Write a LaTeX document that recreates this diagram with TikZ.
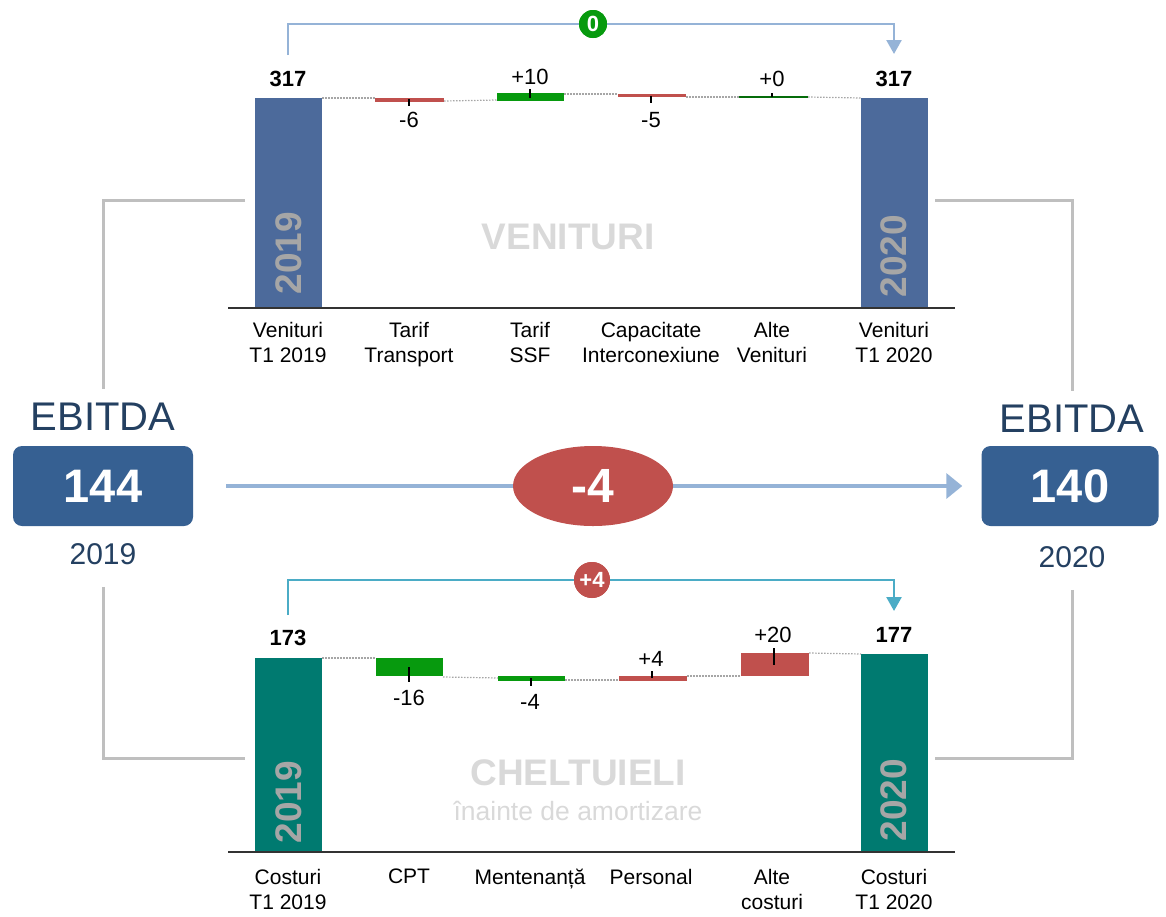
\documentclass[tikz,border=0pt]{standalone}
\usepackage{fontspec}
\setmainfont{Liberation Sans}
\usetikzlibrary{shapes.geometric,arrows.meta}
\definecolor{venblue}{HTML}{4C6A9B}
\definecolor{costteal}{HTML}{007A70}
\definecolor{ebitblue}{HTML}{366092}
\definecolor{ebitdark}{HTML}{244061}
\definecolor{negred}{HTML}{C0504D}
\definecolor{posgreen}{HTML}{079A0E}
\definecolor{arrowblue}{HTML}{95B3D7}
\definecolor{arrowteal}{HTML}{4BACC6}
\definecolor{linkgray}{HTML}{BFBFBF}
\definecolor{watergray}{HTML}{D9D9D9}
\definecolor{yeargray}{HTML}{A6A6A6}
\newcommand{\fsz}[2]{\fontsize{#1}{#2}\selectfont}
\tikzset{
  catlabel/.style={font=\fsz{21}{25}, align=center, anchor=north, inner sep=0},
  deltalabel/.style={font=\fsz{22}{26}, inner sep=0},
  totlabel/.style={font=\bfseries\fsz{22}{26}, inner sep=0},
  yearbar/.style={font=\bfseries\fsz{37}{40}, text=yeargray, rotate=90, inner sep=0},
  watermark/.style={font=\bfseries\fsz{37}{40}, text=watergray, inner sep=0},
  linkline/.style={linkgray, line width=3},
  dotlink/.style={yeargray, line width=1.2, dash pattern=on 1.5 off 1.5},
  tickmark/.style={black, line width=1.2},
  baseline/.style={black!80, line width=2},
  bracket/.style={line width=2.5, -{Triangle[length=14,width=15]}},
  badge/.style={circle, text=white, font=\bfseries\fsz{22}{24}, inner sep=0},
  ebitbox/.style={rectangle, rounded corners=9, fill=ebitblue, text=white,
    minimum width=180, minimum height=80, font=\bfseries\fsz{47}{50}},
  ebittext/.style={text=ebitdark, inner sep=0}
}
\begin{document}
\begin{tikzpicture}[x=1pt, y=-1pt]
\useasboundingbox (0,0) rectangle (1166,916);

% ---------- venituri (top) ----------
\fill[venblue] (255,98) rectangle (322,308);
\fill[venblue] (861,98) rectangle (928,308);
\foreach \xa/\ya/\xb/\yb/\c in {375/98/444/102/negred, 497/93/564/101/posgreen, 618/94/686/97/negred}
  \fill[\c] (\xa,\ya) rectangle (\xb,\yb);
\draw[posgreen!70!black, line width=1.2] (739,97) -- (808,97);
\foreach \xa/\ya/\xb/\yb in {322/98/375/98, 444/101/497/100, 564/94/618/94, 686/97/739/97, 808/97/861/98}
  \draw[dotlink] (\xa,\ya) -- (\xb,\yb);
\foreach \x/\ya/\yb in {409/99/106, 530/89/98, 651/96/103, 772/93/97}
  \draw[tickmark] (\x,\ya) -- (\x,\yb);
\draw[baseline] (228,308) -- (955,308);

\node[totlabel] (vtot19) at (288,79) {317};
\node[totlabel] (vtot20) at (894,79) {317};
\foreach \x/\y/\t in {409/120/-6, 530/77/+10, 651/120/-5, 772/79/+0}
  \node[deltalabel] (vdelta\x) at (\x,\y) {\t};
\foreach \x/\t in {288/{Venituri\\T1 2019}, 409/{Tarif\\Transport}, 530/{Tarif\\SSF},
                   651/{Capacitate\\Interconexiune}, 772/{Alte\\Venituri}, 894/{Venituri\\T1 2020}}
  \node[catlabel] (vcat\x) at (\x,322) {\t};
\node[yearbar] (vyr19) at (289,253) {2019};
\node[yearbar] (vyr20) at (894,256) {2020};
\node[watermark] (vwater) at (568,237) {VENITURI};

\coordinate (vbrL) at (288,55);
\coordinate (vbrR) at (894,54);
\node[badge, fill=posgreen, minimum size=28] (vbadge) at (593,24) {0};
\draw[bracket, arrowblue] (vbrL) |- (vbadge) -| (vbrR);
\node[badge, fill=posgreen, minimum size=28] at (vbadge) {0};

% ---------- cheltuieli (bottom) ----------
\fill[costteal] (255,658) rectangle (322,852);
\fill[costteal] (861,654) rectangle (928,852);
\foreach \xa/\ya/\xb/\yb/\c in {376/658/443/676/posgreen, 498/676/565/681/posgreen,
                                 619/676/687/681/negred, 741/653/809/676/negred}
  \fill[\c] (\xa,\ya) rectangle (\xb,\yb);
\foreach \xa/\ya/\xb/\yb in {322/658/376/658, 443/677/498/678, 565/680/619/680, 687/676/741/676, 809/653/861/654}
  \draw[dotlink] (\xa,\ya) -- (\xb,\yb);
\foreach \x/\ya/\yb in {409/667/682, 531/678/686, 652/671/678, 774/648/665}
  \draw[tickmark] (\x,\ya) -- (\x,\yb);
\draw[baseline] (228,852) -- (955,852);

\node[totlabel] (ctot19) at (288,638) {173};
\node[totlabel] (ctot20) at (894,635) {177};
\foreach \x/\y/\t in {409/698/-16, 530/702/-4, 651/659/+4, 773/635/+20}
  \node[deltalabel] (cdelta\x) at (\x,\y) {\t};
\foreach \x/\t in {288/{Costuri\\T1 2019}, 409/{CPT}, 530/{Mentenanță},
                   651/{Personal}, 772/{Alte\\costuri}, 894/{Costuri\\T1 2020}}
  \node[catlabel] (ccat\x) at (\x,869) {\t};
\node[yearbar] (cyr19) at (289,802) {2019};
\node[yearbar] (cyr20) at (894,800) {2020};
\node[watermark] (cwater) at (578,773) {CHELTUIELI};
\node[text=watergray, font=\fsz{26.5}{29}, inner sep=0] (csub) at (578,811) {înainte de amortizare};

\coordinate (cbrL) at (288,615);
\coordinate (cbrR) at (894,611);
\node[badge, fill=negred, minimum size=36] (cbadge) at (592,580) {+4};
\draw[bracket, arrowteal] (cbrL) |- (cbadge) -| (cbrR);
\node[badge, fill=negred, minimum size=36] at (cbadge) {+4};

% ---------- EBITDA ----------
\node[ebitbox] (ebit19) at (103,486) {144};
\node[ebitbox, minimum width=177] (ebit20) at (1070,486) {140};
\node[ebittext, font=\fsz{40}{44}] (ebit19lbl) at (103,417) {EBITDA};
\node[ebittext, font=\fsz{40}{44}] (ebit20lbl) at (1072,419) {EBITDA};
\node[ebittext, font=\fsz{30}{34}] (ebit19yr) at (103,554) {2019};
\node[ebittext, font=\fsz{30}{34}] (ebit20yr) at (1072,557) {2020};

\draw[arrowblue, line width=3.5, -{Triangle[length=16,width=25]}, shorten <=33, shorten >=19]
  (ebit19.east) -- (ebit20.west);
\node[ellipse, fill=negred, text=white, minimum width=160, minimum height=80, inner sep=0,
  font=\bfseries\fsz{48}{50}] (delta) at (593,486) {-4};

\coordinate (vlink19) at (245,200);
\coordinate (vlink20) at (935,200);
\coordinate (clink19) at (245,758);
\coordinate (clink20) at (935,758);
\draw[linkline, shorten >=14] (vlink19) -| (ebit19lbl.north);
\draw[linkline, shorten >=14] (vlink20) -| (ebit20lbl.north);
\draw[linkline, shorten <=22] (ebit19yr.south) |- (clink19);
\draw[linkline, shorten <=22] (ebit20yr.south) |- (clink20);
\end{tikzpicture}
\end{document}
